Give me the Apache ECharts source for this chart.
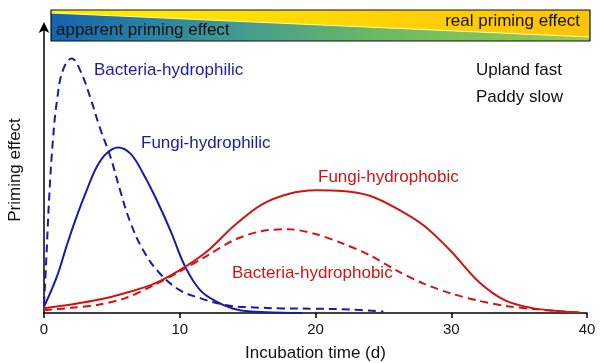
<!DOCTYPE html>
<html>
<head>
<meta charset="utf-8">
<script src="https://cdn.jsdelivr.net/npm/echarts@6/dist/echarts.min.js"></script>
<style>html,body{margin:0;padding:0;background:#fff}#c{width:600px;height:363px}</style>
</head>
<body>
<div id="c"></div>
<script>
// ---- data ----
const xTicks = [0, 10, 20, 30, 40];

const bactPhilX = [0, 0.15, 0.4, 0.65, 0.95, 1.4, 2.05, 2.65, 3.4, 4.1, 4.9, 5.6, 6.3, 7.3, 8.5, 10, 11.5, 12.7, 13.9, 15.2, 17.6, 20, 22.5, 25];
const bactPhilY = [3, 17, 42, 60, 74, 85, 89, 85, 75.5, 65, 54.5, 43, 32.5, 22, 14, 8, 5.2, 3.5, 2.4, 2, 1.6, 1.5, 1.2, 0.5];

const fungPhilX = [0, 0.95, 1.65, 2.4, 3.15, 3.9, 4.6, 5.45, 6.35, 7.3, 8.3, 9.3, 10.4, 11.5, 12.7, 13.9, 15.2, 17.6, 19];
const fungPhilY = [2.2, 12.7, 23.2, 33.7, 43, 51.2, 55.8, 57.9, 55.8, 48.8, 39.5, 29, 16.2, 8, 4, 1.6, 0.5, 0.1, 0];

const fungPhobX = [0, 2, 4, 6, 8, 10, 12, 14, 16, 18, 20, 22, 24, 26, 28, 30, 32, 34, 36, 38, 39.5];
const fungPhobY = [1.7, 3, 4.6, 7, 10, 15, 21.5, 30.5, 37.8, 41.6, 42.9, 42.7, 41, 36.5, 30.5, 21.5, 11, 4.3, 1.7, 0.6, 0.1];

const bactPhobX = [0, 2, 4, 6, 8, 10, 12, 14, 16, 18, 20, 22, 24, 26, 28, 30, 32, 34, 36, 38, 39.5];
const bactPhobY = [1, 1.8, 2.9, 5.2, 9.5, 14.5, 20, 25.5, 28.6, 29.3, 27.6, 24.3, 20.2, 14.8, 10.2, 6.8, 4.3, 2.5, 1.4, 0.6, 0.1];

const seriesNames = ['Bacteria-hydrophilic', 'Fungi-hydrophilic', 'Fungi-hydrophobic', 'Bacteria-hydrophobic'];
const noteLines = ['Upland fast', 'Paddy slow'];
const bannerLeft = 'apparent priming effect';
const bannerRight = 'real priming effect';
const xTitle = 'Incubation time (d)';
const yTitle = 'Priming effect';

// ---- chart ----
const BLUE = '#1a1aa8', RED = '#d01414';
const FONT = '"Liberation Sans", Arial, sans-serif';
const zip = (xs, ys) => xs.map((x, i) => [x, ys[i]]);

const chart = echarts.init(document.getElementById('c'), null, {renderer: 'canvas'});
const txt = (text, x, y, color, align) => ({
  type: 'text', x: x, y: y, z: 10,
  style: {text: text, fill: color, font: '17px ' + FONT, textAlign: align || 'left', textVerticalAlign: 'middle'}
});

chart.setOption({
  animation: false,
  grid: {left: 44, right: 13, top: 27, bottom: 50, containLabel: false, outerBoundsMode: 'none'},
  xAxis: {
    type: 'value', min: 0, max: 40, interval: 10,
    name: xTitle, nameLocation: 'middle', nameGap: 32,
    nameTextStyle: {color: '#111', fontSize: 17, fontFamily: FONT},
    axisLine: {show: true, lineStyle: {color: '#000', width: 1.5}},
    axisTick: {show: true, inside: false, length: 5, lineStyle: {color: '#000', width: 1.5}},
    axisLabel: {color: '#111', fontSize: 15, fontFamily: FONT, margin: 9, formatter: v => xTicks.includes(v) ? String(v) : ''},
    splitLine: {show: false}
  },
  yAxis: {
    type: 'value', min: 0, max: 100,
    name: yTitle, nameLocation: 'middle', nameGap: 20,
    nameTextStyle: {color: '#111', fontSize: 17, fontFamily: FONT},
    axisLine: {show: true, symbol: ['none', 'arrow'], symbolSize: [8, 11], symbolOffset: [0, 5], lineStyle: {color: '#000', width: 1.5}},
    axisTick: {show: false}, axisLabel: {show: false}, splitLine: {show: false}
  },
  series: [
    {name: seriesNames[0], type: 'line', data: zip(bactPhilX, bactPhilY), smooth: 0.4, showSymbol: false,
     lineStyle: {color: BLUE, width: 2, type: [8, 5]}},
    {name: seriesNames[1], type: 'line', data: zip(fungPhilX, fungPhilY), smooth: 0.4, showSymbol: false,
     lineStyle: {color: BLUE, width: 2}},
    {name: seriesNames[2], type: 'line', data: zip(fungPhobX, fungPhobY), smooth: 0.3, showSymbol: false,
     lineStyle: {color: RED, width: 2}},
    {name: seriesNames[3], type: 'line', data: zip(bactPhobX, bactPhobY), smooth: 0.3, showSymbol: false,
     lineStyle: {color: RED, width: 2, type: [8, 5]}}
  ],
  graphic: [
    {type: 'polygon', z: 1, shape: {points: [[51, 10], [590, 10], [590, 37], [51, 13]]},
     style: {fill: new echarts.graphic.LinearGradient(0, 0, 1, 0, [
       {offset: 0, color: '#ffee00'}, {offset: 1, color: '#ffc20a'}])}},
    {type: 'polygon', z: 1, shape: {points: [[51, 13], [590, 37], [590, 41], [51, 41]]},
     style: {fill: new echarts.graphic.LinearGradient(0, 0, 1, 0, [
       {offset: 0, color: '#1463b0'}, {offset: 0.3, color: '#3a9598'}, {offset: 0.6, color: '#6bb866'}, {offset: 1, color: '#98cf4a'}])}},
    {type: 'line', z: 2, shape: {x1: 51, y1: 13, x2: 590, y2: 37}, style: {stroke: '#fff59a', lineWidth: 1}},
    {type: 'rect', z: 3, shape: {x: 51, y: 10, width: 539, height: 31}, style: {fill: 'none', stroke: '#111', lineWidth: 1.2}},
    txt(bannerLeft, 56, 30, '#111'),
    txt(bannerRight, 580, 21, '#111', 'right'),
    txt(seriesNames[0], 94, 70, BLUE),
    txt(seriesNames[1], 141, 143, BLUE),
    txt(seriesNames[2], 318, 177, RED),
    txt(seriesNames[3], 232, 273, RED),
    txt(noteLines[0], 476, 70, '#111'),
    txt(noteLines[1], 476, 97, '#111')
  ]
});
</script>
</body>
</html>
